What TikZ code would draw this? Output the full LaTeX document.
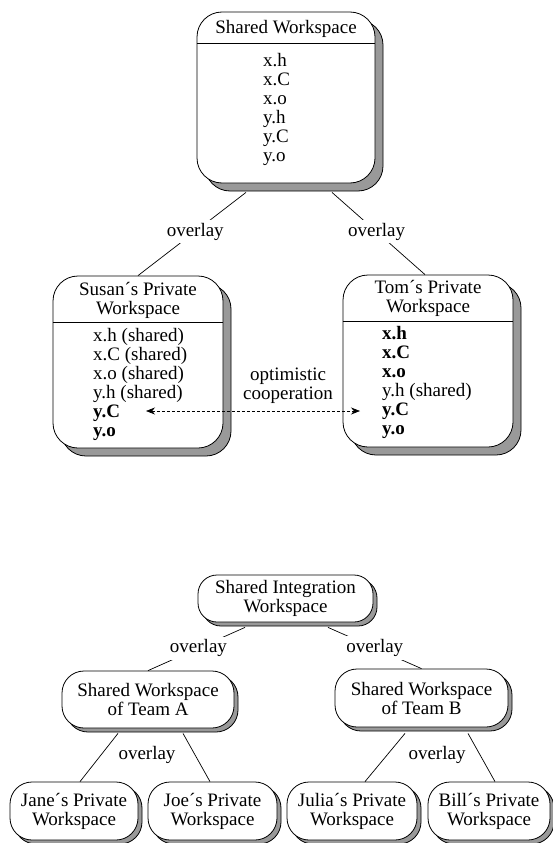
\documentclass[tikz,border=0pt]{standalone}
\usepackage{fontspec}
\setmainfont{Liberation Serif}
\usetikzlibrary{shadows,arrows.meta}
\begin{document}
\begin{tikzpicture}[x=1pt,y=-1pt,
  every node/.style={font=\fontsize{19pt}{19pt}\selectfont, inner sep=0pt},
  bigbox/.style={draw=black, line width=0.8pt, fill=white, rounded corners=25pt,
     drop shadow={shadow xshift=8pt, shadow yshift=-8pt, fill=black!40, draw=black, line width=0.8pt, opacity=1}},
  smallbox/.style={draw=black, line width=0.8pt, fill=white, rounded corners=22pt, align=center,
     drop shadow={shadow xshift=4pt, shadow yshift=-4pt, fill=black!40, draw=black, line width=0.8pt, opacity=1}},
  link/.style={draw=black, line width=0.7pt},
  lbl/.style={fill=white, inner sep=3pt},
  hline/.style={draw=black, line width=0.8pt},
  coop/.style={line width=0.7pt, dash pattern=on 3pt off 2pt,
     {Stealth[length=9pt,width=7pt]}-{Stealth[length=9pt,width=7pt]}},
  ]
\useasboundingbox (0,0) rectangle (553,843);

% ---------- upper part ----------
\node[bigbox, minimum width=178pt, minimum height=171pt] (top) at (286,97.5) {};
\draw[hline] (top.west |- 0,43) -- (top.east |- 0,43);
\node (toptitle) at (286,29) {Shared Workspace};
\node[align=left, anchor=west] (topitems) at (263,109.5) {x.h\\x.C\\x.o\\y.h\\y.C\\y.o};

\node[bigbox, minimum width=170pt, minimum height=172pt] (susan) at (138,362) {};
\draw[hline] (susan.west |- 0,322) -- (susan.east |- 0,322);
\node[align=center] (susantitle) at (138,300) {Susan´s Private\\Workspace};
\node[align=left, anchor=west] (susanitems) at (93,384)
  {x.h (shared)\\x.C (shared)\\x.o (shared)\\y.h (shared)\\\textbf{y.C}\\\textbf{y.o}};

\node[bigbox, minimum width=170pt, minimum height=172pt] (tom) at (428,361) {};
\draw[hline] (tom.west |- 0,321) -- (tom.east |- 0,321);
\node[align=center] (tomtitle) at (428,298) {Tom´s Private\\Workspace};
\node[align=left, anchor=west] (tomitems) at (382,382)
  {\textbf{x.h}\\\textbf{x.C}\\\textbf{x.o}\\y.h (shared)\\\textbf{y.C}\\\textbf{y.o}};

\draw[link] ([xshift=-40pt,yshift=-9pt]top.south) -- node[lbl, pos=0.47] (ov1) {overlay} (susan.north);
\draw[link] ([xshift=46pt,yshift=-9pt]top.south) -- node[lbl, pos=0.48] (ov2) {overlay} ([xshift=-3pt]tom.north);

\node[align=center] (cooplbl) at (288,386) {optimistic\\cooperation};
\draw[coop] ([xshift=8pt,yshift=-49pt]susan.center) -- ([xshift=-68pt,yshift=-50pt]tom.center);

% ---------- lower part ----------
\node[smallbox, rounded corners=19pt, minimum width=175pt, minimum height=47pt] (integ) at (285.5,598.5) {Shared Integration\\Workspace};
\node[smallbox, minimum width=172pt, minimum height=57pt] (teamA) at (148,699.5) {Shared Workspace\\of Team A};
\node[smallbox, minimum width=173pt, minimum height=58pt] (teamB) at (421.5,698) {Shared Workspace\\of Team B};

\node[smallbox, minimum width=128pt, minimum height=58pt] (jane) at (74,811) {Jane´s Private\\Workspace};
\node[smallbox, minimum width=129pt, minimum height=58pt] (joe) at (212.5,811) {Joe´s Private\\Workspace};
\node[smallbox, minimum width=130pt, minimum height=58pt] (julia) at (352,811) {Julia´s Private\\Workspace};
\node[smallbox, minimum width=122pt, minimum height=58pt] (bill) at (489,811) {Bill´s Private\\Workspace};

\draw[link] ([xshift=-40.5pt,yshift=-5pt]integ.south) -- node[lbl, pos=0.48] (ov3) {overlay} (teamA.north);
\draw[link] ([xshift=42.5pt,yshift=-5pt]integ.south) -- node[lbl, pos=0.5] (ov4) {overlay} (teamB.north);

\draw[link] ([xshift=-30pt,yshift=-5pt]teamA.south) -- ([xshift=6pt]jane.north);
\draw[link] ([xshift=35pt,yshift=-5pt]teamA.south) -- ([xshift=-2.5pt]joe.north);
\node (ov5) at (147,755) {overlay};

\draw[link] ([xshift=-16.5pt,yshift=-6pt]teamB.south) -- ([xshift=13pt]julia.north);
\draw[link] ([xshift=46.5pt,yshift=-6pt]teamB.south) -- ([xshift=6pt]bill.north);
\node (ov6) at (437,755) {overlay};
\end{tikzpicture}
\end{document}
